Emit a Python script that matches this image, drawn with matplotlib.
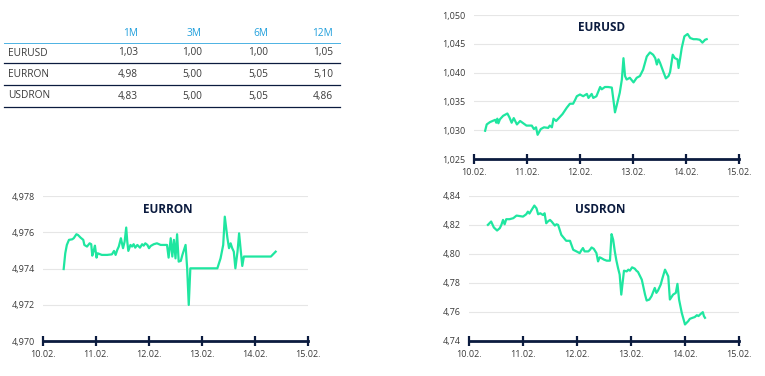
import matplotlib
matplotlib.use("Agg")
import matplotlib.pyplot as plt
import numpy as np

plt.rcParams["font.family"] = ["Open Sans", "DejaVu Sans"]

GREEN = "#1fe6a0"
NAVY = "#0b1b3f"
BLUE = "#1f9fdc"
GRID = "#e6e6e6"
TXT = "#3a3a3a"

# --- prognoza (tabel) ---
table_cols = ["1M", "3M", "6M", "12M"]
table_rows = ["EURUSD", "EURRON", "USDRON"]
table_vals = [
    ["1,03", "1,00", "1,00", "1,05"],
    ["4,98", "5,00", "5,05", "5,10"],
    ["4,83", "5,00", "5,05", "4,86"],
]

# zile de la 10.02.
date_labels = ["10.02.", "11.02.", "12.02.", "13.02.", "14.02.", "15.02."]

# --- EURUSD ---
eurusd_t = [0.21, 0.24, 0.30, 0.40, 0.42, 0.44, 0.46, 0.49, 0.55, 0.63, 0.67, 0.71,
            0.75, 0.81, 0.87, 0.93, 0.99, 1.09, 1.13, 1.17, 1.20, 1.26, 1.32, 1.40,
            1.43, 1.47, 1.50, 1.55, 1.61, 1.67, 1.75, 1.81, 1.87, 1.91, 1.94, 2.00,
            2.06, 2.13, 2.16, 2.22, 2.25, 2.31, 2.38, 2.41, 2.47, 2.53, 2.60, 2.63,
            2.66, 2.69, 2.75, 2.79, 2.82, 2.85, 2.88, 2.94, 3.01, 3.07, 3.13, 3.19,
            3.26, 3.32, 3.38, 3.42, 3.45, 3.48, 3.51, 3.57, 3.62, 3.67, 3.70, 3.75,
            3.79, 3.84, 3.86, 3.89, 3.92, 3.97, 4.03, 4.08, 4.14, 4.20, 4.26, 4.31,
            4.36, 4.39]
eurusd_v = [1.0299, 1.0310, 1.0314, 1.0318, 1.0313, 1.0320, 1.0312, 1.0319, 1.0325,
            1.0329, 1.0322, 1.0313, 1.0321, 1.0310, 1.0316, 1.0312, 1.0308, 1.0308,
            1.0302, 1.0305, 1.0292, 1.0302, 1.0305, 1.0304, 1.0308, 1.0305, 1.0320,
            1.0316, 1.0322, 1.0328, 1.0339, 1.0346, 1.0346, 1.0353, 1.0359, 1.0362,
            1.0359, 1.0363, 1.0356, 1.0363, 1.0356, 1.0359, 1.0375, 1.0371, 1.0375,
            1.0375, 1.0374, 1.0353, 1.0331, 1.0342, 1.0365, 1.0388, 1.0425, 1.0394,
            1.0388, 1.0391, 1.0383, 1.0391, 1.0394, 1.0405, 1.0428, 1.0435, 1.0431,
            1.0425, 1.0414, 1.0423, 1.0417, 1.0402, 1.0390, 1.0394, 1.0401, 1.0431,
            1.0425, 1.0423, 1.0408, 1.0425, 1.0443, 1.0463, 1.0467, 1.0460, 1.0458,
            1.0458, 1.0457, 1.0452, 1.0457, 1.0458]

# --- EURRON ---
eurron_t = [0.39, 0.42, 0.45, 0.49, 0.55, 0.58, 0.63, 0.66, 0.71, 0.76, 0.78, 0.83,
            0.88, 0.91, 0.93, 0.96, 0.98, 1.01, 1.03, 1.11, 1.21, 1.30, 1.34, 1.37,
            1.40, 1.43, 1.47, 1.51, 1.54, 1.57, 1.59, 1.61, 1.65, 1.68, 1.71, 1.74,
            1.78, 1.83, 1.87, 1.90, 1.93, 1.97, 2.00, 2.03, 2.09, 2.15, 2.22, 2.28,
            2.34, 2.37, 2.41, 2.44, 2.47, 2.50, 2.53, 2.56, 2.60, 2.63, 2.69, 2.72,
            2.75, 2.78, 2.85, 3.29, 3.35, 3.40, 3.43, 3.48, 3.51, 3.54, 3.57, 3.60,
            3.63, 3.67, 3.70, 3.73, 3.76, 3.79, 4.30, 4.36, 4.39]
eurron_v = [4.97397, 4.97484, 4.97530, 4.97558, 4.97561, 4.97567, 4.97589, 4.97585,
            4.97570, 4.97558, 4.97530, 4.97521, 4.97539, 4.97534, 4.97471, 4.97502,
            4.97526, 4.97460, 4.97484, 4.97475, 4.97475, 4.97478, 4.97497, 4.97475,
            4.97502, 4.97521, 4.97567, 4.97512, 4.97548, 4.97626, 4.97548, 4.97497,
            4.97530, 4.97521, 4.97534, 4.97515, 4.97530, 4.97515, 4.97534, 4.97526,
            4.97539, 4.97530, 4.97512, 4.97524, 4.97534, 4.97539, 4.97530, 4.97530,
            4.97530, 4.97460, 4.97567, 4.97466, 4.97558, 4.97456, 4.97589, 4.97438,
            4.97442, 4.97475, 4.97530, 4.97401, 4.97199, 4.97401, 4.97401, 4.97401,
            4.97456, 4.97530, 4.97686, 4.97567, 4.97512, 4.97539, 4.97512, 4.97493,
            4.97401, 4.97493, 4.97594, 4.97502, 4.97414, 4.97466, 4.97466, 4.97484,
            4.97493]

# --- USDRON ---
usdron_t = [0.35, 0.41, 0.46, 0.52, 0.57, 0.60, 0.63, 0.66, 0.69, 0.75, 0.82, 0.88,
            1.00, 1.06, 1.09, 1.12, 1.16, 1.21, 1.25, 1.28, 1.32, 1.37, 1.40, 1.43,
            1.46, 1.50, 1.53, 1.59, 1.62, 1.65, 1.71, 1.80, 1.87, 1.93, 1.99, 2.05,
            2.08, 2.11, 2.14, 2.21, 2.24, 2.27, 2.31, 2.36, 2.39, 2.42, 2.45, 2.50,
            2.55, 2.61, 2.64, 2.67, 2.70, 2.73, 2.76, 2.79, 2.82, 2.87, 2.92, 2.95,
            2.98, 3.02, 3.07, 3.10, 3.13, 3.20, 3.26, 3.29, 3.34, 3.38, 3.44, 3.47,
            3.50, 3.55, 3.58, 3.63, 3.66, 3.69, 3.72, 3.78, 3.83, 3.86, 3.89, 3.94,
            4.00, 4.06, 4.09, 4.14, 4.18, 4.22, 4.25, 4.28, 4.33, 4.35, 4.37]
usdron_v = [4.8201, 4.8224, 4.8183, 4.8162, 4.8178, 4.8201, 4.8235, 4.8205, 4.8240,
            4.8240, 4.8247, 4.8265, 4.8258, 4.8274, 4.8292, 4.8279, 4.8304, 4.8334,
            4.8315, 4.8274, 4.8281, 4.8269, 4.8281, 4.8212, 4.8224, 4.8235, 4.8224,
            4.8196, 4.8205, 4.8201, 4.8132, 4.8091, 4.8091, 4.8029, 4.8018, 4.8006,
            4.8025, 4.8041, 4.8018, 4.8018, 4.8029, 4.8045, 4.8036, 4.8006, 4.7949,
            4.7977, 4.7972, 4.7961, 4.7954, 4.7954, 4.8137, 4.8098, 4.8018, 4.7954,
            4.7903, 4.7858, 4.7720, 4.7885, 4.7880, 4.7892, 4.7885, 4.7908, 4.7899,
            4.7885, 4.7876, 4.7823, 4.7720, 4.7679, 4.7686, 4.7709, 4.7766, 4.7732,
            4.7748, 4.7789, 4.7830, 4.7892, 4.7869, 4.7846, 4.7686, 4.7720, 4.7732,
            4.7794, 4.7686, 4.7594, 4.7514, 4.7537, 4.7553, 4.7560, 4.7565, 4.7578,
            4.7572, 4.7583, 4.7599, 4.7572, 4.7560]

W, H = 765, 376
fig = plt.figure(figsize=(W / 100, H / 100), dpi=100)


def px_axes(x0, y0, x1, y1):
    """axes din coordonate pixel (stanga-sus, dreapta-jos)"""
    return fig.add_axes([x0 / W, 1 - y1 / H, (x1 - x0) / W, (y1 - y0) / H])


def draw_chart(ax, t, v, ylim, yticks, fmt, title, tx):
    ax.plot(t, v, color=GREEN, lw=1.6, solid_joinstyle="round")
    ax.set_xlim(0, 5)
    ax.set_ylim(*ylim)
    ax.set_xticks(range(6))
    ax.set_xticklabels(date_labels)
    ax.set_yticks(yticks)
    ax.set_yticklabels([fmt(y).replace(".", ",") for y in yticks])
    for y in yticks[1:]:
        ax.axhline(y, color=GRID, lw=0.8, zorder=0)
    for s in ["top", "right", "left"]:
        ax.spines[s].set_visible(False)
    ax.spines["bottom"].set_color(NAVY)
    ax.spines["bottom"].set_linewidth(2)
    ax.tick_params(axis="x", direction="inout", length=7, width=1.6, color=NAVY,
                   labelsize=6.5, labelcolor=TXT, pad=3)
    ax.tick_params(axis="y", length=0, labelsize=6.5, labelcolor=TXT, pad=6)
    ax.patch.set_alpha(0)
    ax.text(tx, 0.91, title, transform=ax.transAxes, ha="center", va="center",
            fontsize=8.5, fontweight="bold", color=NAVY)


ax1 = px_axes(474, 15, 739, 159)
draw_chart(ax1, eurusd_t, eurusd_v, (1.025, 1.050),
           [1.025, 1.030, 1.035, 1.040, 1.045, 1.050],
           lambda y: f"{y:.3f}", "EURUSD", 0.48)

ax2 = px_axes(43, 196, 308, 341)
draw_chart(ax2, eurron_t, eurron_v, (4.970, 4.978),
           [4.970, 4.972, 4.974, 4.976, 4.978],
           lambda y: f"{y:.3f}", "EURRON", 0.47)

ax3 = px_axes(469, 196, 739, 341)
draw_chart(ax3, usdron_t, usdron_v, (4.74, 4.84),
           [4.74, 4.76, 4.78, 4.80, 4.82, 4.84],
           lambda y: f"{y:.2f}", "USDRON", 0.485)

# --- tabel ---
axt = px_axes(0, 20, 345, 115)
axt.set_xlim(0, 345)
axt.set_ylim(115, 20)
axt.axis("off")
col_x = [138, 202, 268, 333]
row_y = [53, 74.5, 96]
for cx, c in zip(col_x, table_cols):
    axt.text(cx, 34, c, ha="right", va="center", fontsize=7.3, color=BLUE)
axt.plot([4, 340], [43.5, 43.5], color=BLUE, lw=0.7, alpha=0.8)
for ry, name, vals in zip(row_y, table_rows, table_vals):
    axt.text(8, ry, name, ha="left", va="center", fontsize=7.3, color=TXT)
    for cx, val in zip(col_x, vals):
        axt.text(cx, ry, val, ha="right", va="center", fontsize=7.3, color=TXT)
    axt.plot([4, 340], [ry + 10.5, ry + 10.5], color=NAVY, lw=0.9)

fig.savefig("out.png", dpi=100)
